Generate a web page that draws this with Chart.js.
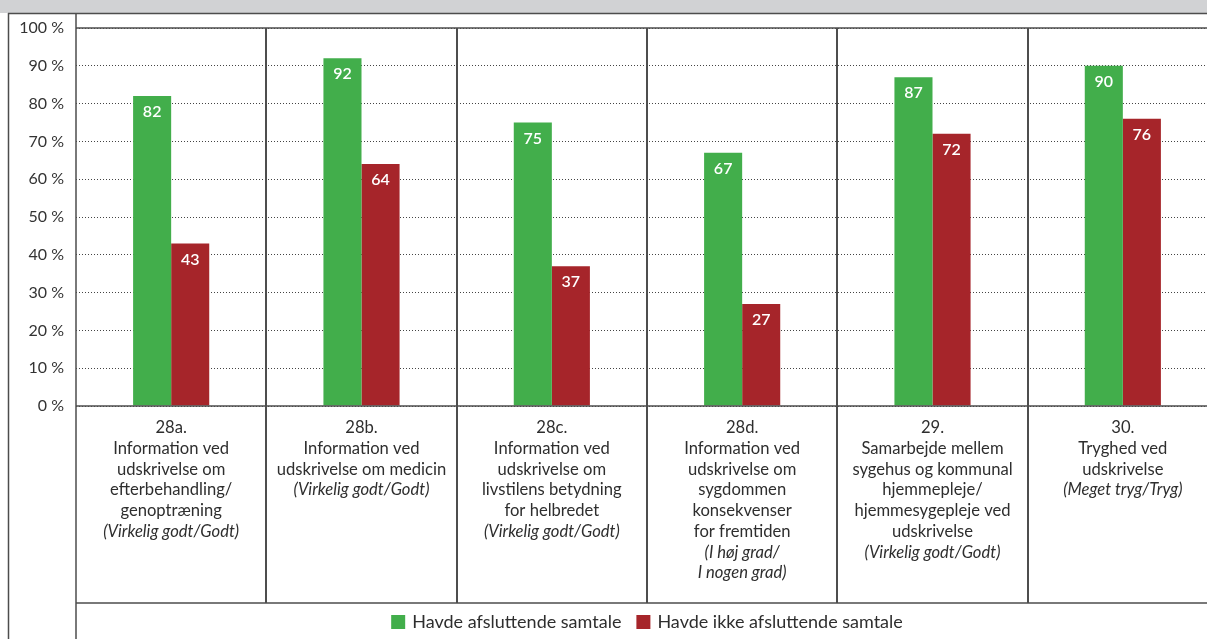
<!DOCTYPE html>
<html>
<head>
<meta charset="utf-8">
<script src="https://cdn.jsdelivr.net/npm/chart.js@4"></script>
<style>
  body { margin: 0; overflow: hidden; background: #fff; }
</style>
</head>
<body>
<canvas id="chart" width="1294" height="639"></canvas>
<script>
"use strict";
//------------------------- data ---------------------------------
let categories = ["28a.", "28b.", "28c.", "28d.", "29.", "30."];
let categoryText = [
  ["28a.", "Information ved", "udskrivelse om", "efterbehandling/", "genoptræning"],
  ["28b.", "Information ved", "udskrivelse om medicin"],
  ["28c.", "Information ved", "udskrivelse om", "livstilens betydning", "for helbredet"],
  ["28d.", "Information ved", "udskrivelse om", "sygdommen", "konsekvenser", "for fremtiden"],
  ["29.", "Samarbejde mellem", "sygehus og kommunal", "hjemmepleje/", "hjemmesygepleje ved", "udskrivelse"],
  ["30.", "Tryghed ved", "udskrivelse"]
];
let categoryNote = [
  ["(Virkelig godt/Godt)"],
  ["(Virkelig godt/Godt)"],
  ["(Virkelig godt/Godt)"],
  ["(I høj grad/", "I nogen grad)"],
  ["(Virkelig godt/Godt)"],
  ["(Meget tryg/Tryg)"]
];
let withTalk = [82, 92, 75, 67, 87, 90];
let withoutTalk = [43, 64, 37, 27, 72, 76];
let seriesNames = ["Havde afsluttende samtale", "Havde ikke afsluttende samtale"];

let green = "#42ae4b";
let red = "#a6252a";
let lineColor = "#4d4d4d";
let font = "Lato";
let labelAreaHeight = 197;
let bottomAreaHeight = 233;

//------------------------- frame, labels, values and legend ---------------------------------
let framePlugin = {
  id: "frame",
  beforeDraw(chart) {
    let ctx = chart.ctx;
    ctx.save();
    ctx.fillStyle = "#d1d2d4";
    ctx.fillRect(0, 0, chart.width, 13);
    ctx.restore();
  },
  afterDatasetsDraw(chart) {
    let ctx = chart.ctx;
    let area = chart.chartArea;
    let x = chart.scales.x;
    let bottom = area.bottom + labelAreaHeight;
    let step = (area.right - area.left) / categories.length;
    ctx.save();
    ctx.strokeStyle = lineColor;
    ctx.lineWidth = 1.5;
    ctx.beginPath();
    // top edge under the title band
    ctx.moveTo(8, 13.5); ctx.lineTo(chart.width, 13.5);
    // outer left and axis left
    ctx.moveTo(8.5, 13); ctx.lineTo(8.5, chart.height);
    ctx.moveTo(area.left, 13); ctx.lineTo(area.left, chart.height);
    // plot top, base line, label area bottom
    ctx.moveTo(area.left, area.top); ctx.lineTo(area.right, area.top);
    ctx.moveTo(area.left, area.bottom); ctx.lineTo(area.right, area.bottom);
    ctx.moveTo(area.left, bottom); ctx.lineTo(area.right, bottom);
    ctx.stroke();
    ctx.lineWidth = 2;
    ctx.beginPath();
    for (let i = 1; i <= categories.length; i++) {
      let bx = Math.round(area.left + i * step);
      ctx.moveTo(bx, area.top); ctx.lineTo(bx, bottom);
    }
    ctx.stroke();

    // category texts
    ctx.textAlign = "center";
    ctx.textBaseline = "middle";
    ctx.fillStyle = "#2e2e2e";
    for (let i = 0; i < categories.length; i++) {
      let cx = x.getPixelForValue(i);
      let y = area.bottom + 22;
      ctx.font = "16.6px " + font;
      for (let line of categoryText[i]) {
        ctx.fillText(line, cx, y);
        y += 20.7;
      }
      ctx.font = "italic 16.6px " + font;
      for (let line of categoryNote[i]) {
        ctx.fillText(line, cx, y);
        y += 20.7;
      }
    }

    // values inside bars
    ctx.fillStyle = "#ffffff";
    ctx.font = "600 16px " + font;
    chart.data.datasets.forEach((ds, d) => {
      let meta = chart.getDatasetMeta(d);
      meta.data.forEach((bar, i) => {
        ctx.fillText(ds.data[i], bar.x, bar.y + 16);
      });
    });

    // legend, centred under the plot
    ctx.font = "18px " + font;
    ctx.textAlign = "left";
    let box = 14, gap = 7, itemGap = 15;
    let widths = chart.data.datasets.map(ds => ctx.measureText(ds.label).width);
    let total = widths.reduce((a, w) => a + box + gap + w, 0) + itemGap * (widths.length - 1);
    let lx = (area.left + area.right) / 2 - total / 2;
    let ly = bottom + 19;
    chart.data.datasets.forEach((ds, d) => {
      ctx.fillStyle = ds.backgroundColor;
      ctx.fillRect(lx, ly - box / 2, box, box);
      ctx.fillStyle = "#2e2e2e";
      ctx.fillText(ds.label, lx + box + gap, ly);
      lx += box + gap + widths[d] + itemGap;
    });
    ctx.restore();
  }
};

//------------------------- chart ---------------------------------
let chart = new Chart(document.getElementById("chart"), {
  type: "bar",
  data: {
    labels: categories,
    datasets: [{
      label: seriesNames[0],
      data: withTalk,
      backgroundColor: green
    }, {
      label: seriesNames[1],
      data: withoutTalk,
      backgroundColor: red
    }]
  },
  options: {
    responsive: false,
    animation: false,
    layout: {
      padding: { top: 28, right: 76, bottom: 0, left: 0 }
    },
    datasets: {
      bar: { categoryPercentage: 0.4, barPercentage: 1.0 }
    },
    scales: {
      x: {
        grid: { display: false },
        border: { display: false },
        ticks: { display: false },
        afterFit(scale) { scale.height = bottomAreaHeight; }
      },
      y: {
        min: 0,
        max: 100,
        ticks: {
          stepSize: 10,
          padding: 12,
          color: "#333",
          font: { family: font, size: 16 },
          callback: v => v + " %"
        },
        grid: { color: "#444", lineWidth: 1, drawTicks: false },
        border: { display: false, dash: [1, 2] },
        afterFit(scale) { scale.width = 76; }
      }
    },
    plugins: {
      legend: { display: false },
      tooltip: { enabled: false }
    }
  },
  plugins: [framePlugin]
});
</script>
</body>
</html>
